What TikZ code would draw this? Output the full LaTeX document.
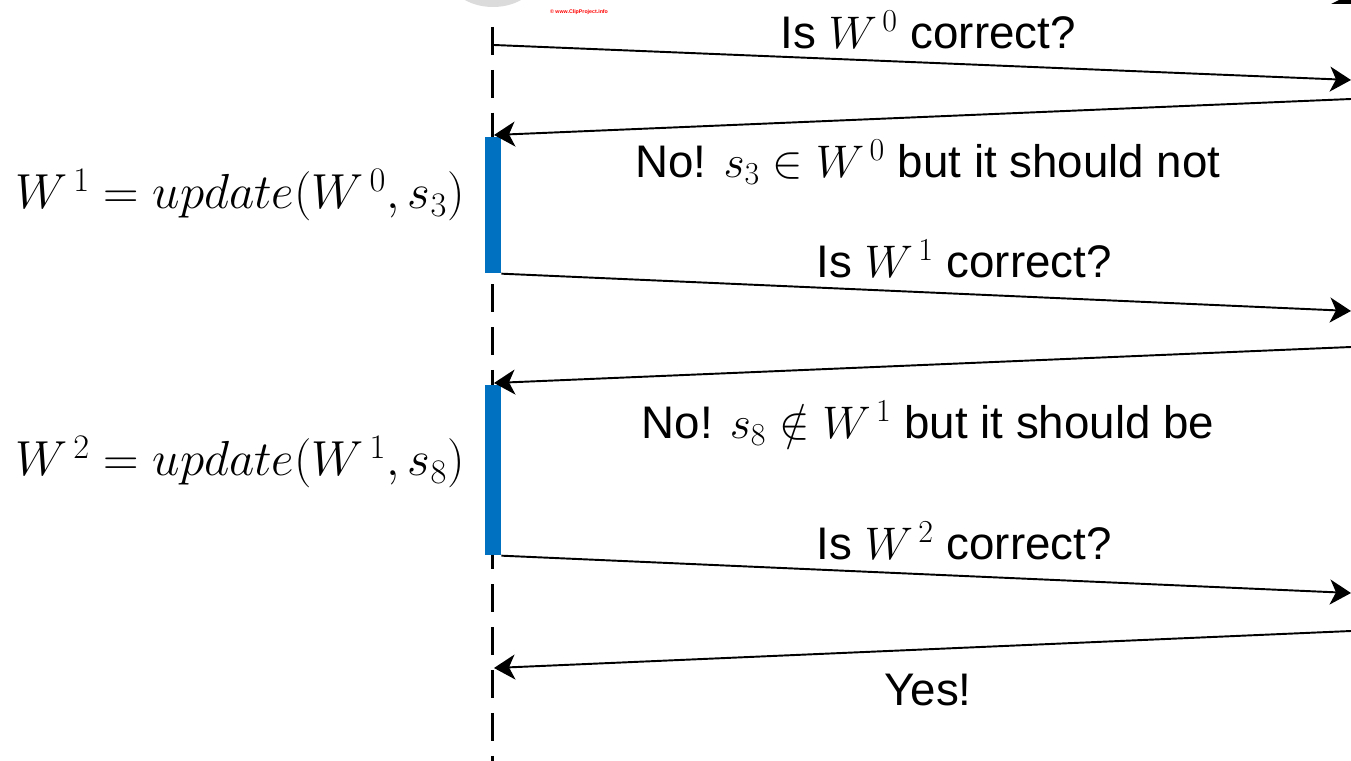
\RequirePackage{fix-cm}
\documentclass[tikz,border=0pt]{standalone}
\usepackage{fontspec}
\setmainfont{Liberation Sans}
\usetikzlibrary{arrows.meta}
\definecolor{barblue}{RGB}{0,112,192}

\begin{document}
\begin{tikzpicture}[x=0.02cm, y=-0.02cm, >={Stealth[length=0.42cm,width=0.5cm,inset=0.12cm]},
		msg/.style={->, line width=1.1pt},
		lbl/.style={font=\fontsize{26}{30}\selectfont, inner sep=0pt},
		eqn/.style={font=\fontsize{28}{32}\selectfont, inner sep=0pt},
		act/.style={fill=barblue, draw=none, inner sep=0pt, anchor=north, minimum width=0.32cm}]
		\useasboundingbox (0,0) rectangle (1351,760);
		\clip (0,0) rectangle (1351,760);
		\fill[gray!28] (493,-25) ellipse [x radius=45, y radius=32];
		\node[text=red, inner sep=0pt, font=\fontsize{3}{3}\selectfont\bfseries] (credit) at (579,12) {\textcopyright{} www.ClipProject.info};
		\fill (1331,4) -- (1339,0) -- (1351,0) -- (1351,4) -- cycle;
		\coordinate (top) at (492,27);
		\coordinate (bottom) at (492,762);
		\draw[line width=1.7pt, dash pattern=on 15.9pt off 8.5pt] (top) -- (bottom);
		\node[act, minimum height=2.72cm] (bar1) at (493,137) {};
		\node[act, minimum height=3.4cm] (bar2) at (493,385) {};
		\coordinate (q0) at (494,45);
		\coordinate (o0) at (1351,80);
		\coordinate (o1) at (1351,99);
		\coordinate (a1) at (494,135);
		\coordinate (o2) at (1351,311);
		\coordinate (o3) at (1351,347);
		\coordinate (a2) at (494,383);
		\coordinate (o4) at (1351,593);
		\coordinate (o5) at (1351,631);
		\coordinate (a3) at (494,668);
		\draw[msg] (q0) -- (o0);
		\draw[msg] (o1) -- (a1);
		\draw[msg] (bar1.south east) -- (o2);
		\draw[msg] (o3) -- (a2);
		\draw[msg] (bar2.south east) -- (o4);
		\draw[msg] (o5) -- (a3);
		\node[lbl] (ask0) at (928,30) {Is $W^{\mkern3mu 0}$ correct?};
		\node[lbl] (no0) at (928,162) {No! $s_3\in W^{\mkern3mu 0}$ but it should not};
		\node[lbl] (ask1) at (964,259) {Is $W^{\mkern3mu 1}$ correct?};
		\node[lbl] (no1) at (928,423) {No! $s_8\notin W^{\mkern3mu 1}$ but it should be};
		\node[lbl] (ask2) at (964,541) {Is $W^{\mkern3mu 2}$ correct?};
		\node[lbl] (yes) at (928,690) {Yes!};
		\node[eqn] (upd1) at (240,195) {$W^{\mkern3mu 1}=update(W^{\mkern3mu 0},s_3)$};
		\node[eqn] (upd2) at (240,462) {$W^{\mkern3mu 2}=update(W^{\mkern3mu 1},s_8)$};
	\end{tikzpicture}
\end{document}
